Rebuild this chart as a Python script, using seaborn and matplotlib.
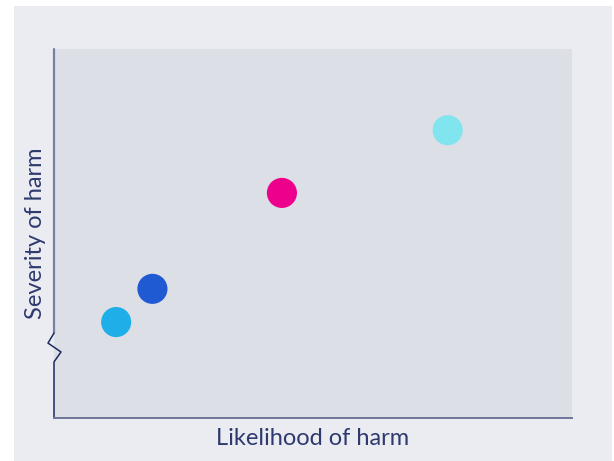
import numpy as np
import pandas as pd
import matplotlib
matplotlib.use("Agg")
import matplotlib.pyplot as plt
import seaborn as sns
from matplotlib.patches import Rectangle

# data (arbitrary 0-10 scale, no ticks shown)
risks = ["A", "B", "C", "D"]
likelihood = [1.2, 1.9, 4.4, 7.6]
severity = [2.6, 3.5, 6.1, 7.8]
colours = ["#1EAEE8", "#1F5AD3", "#EC008C", "#80E5EE"]

df = pd.DataFrame({"risk": risks, "likelihood": likelihood, "severity": severity})

sns.set_theme(style="white")
plt.rcParams["font.family"] = ["Lato", "DejaVu Sans"]

fig = plt.figure(figsize=(6.14, 4.61), dpi=100)
fig.patch.set_facecolor("white")
bg = Rectangle((14 / 614, 0), 598 / 614, 455 / 461,
               transform=fig.transFigure, facecolor="#EBECF1",
               edgecolor="none", zorder=-10)
fig.add_artist(bg)

ax = fig.add_axes([54 / 614, 43 / 461, 518 / 614, 369 / 461])
ax.set_zorder(1)
ax.set_facecolor("#DCDFE6")

sns.scatterplot(data=df, x="likelihood", y="severity", hue="risk",
                palette=colours, s=470, edgecolor="none", legend=False, ax=ax)

ax.set_xlim(0, 10)
ax.set_ylim(0, 10)
ax.set_xticks([])
ax.set_yticks([])

for side in ["top", "right", "left"]:
    ax.spines[side].set_visible(False)
ax.spines["bottom"].set_color("#6F7799")
ax.spines["bottom"].set_linewidth(1.4)

# left axis with a break
ax.plot([0, 0], [0.230, 1.0], transform=ax.transAxes, color="#7A80A0",
        lw=1.6, clip_on=False)
ax.plot([0, -0.0116, 0.0135, 0, 0], [0.230, 0.203, 0.179, 0.152, 0.0],
        transform=ax.transAxes, color="#1B2A5E", lw=1.1, clip_on=False)

ax.set_xlabel("Likelihood of harm", fontsize=17, color="#2E3A6E",
              fontweight="normal", labelpad=7)
ax.set_ylabel("Severity of harm", fontsize=17, color="#2E3A6E",
              fontweight="normal", labelpad=6)

fig.savefig("out.png", dpi=100, facecolor=fig.get_facecolor())
